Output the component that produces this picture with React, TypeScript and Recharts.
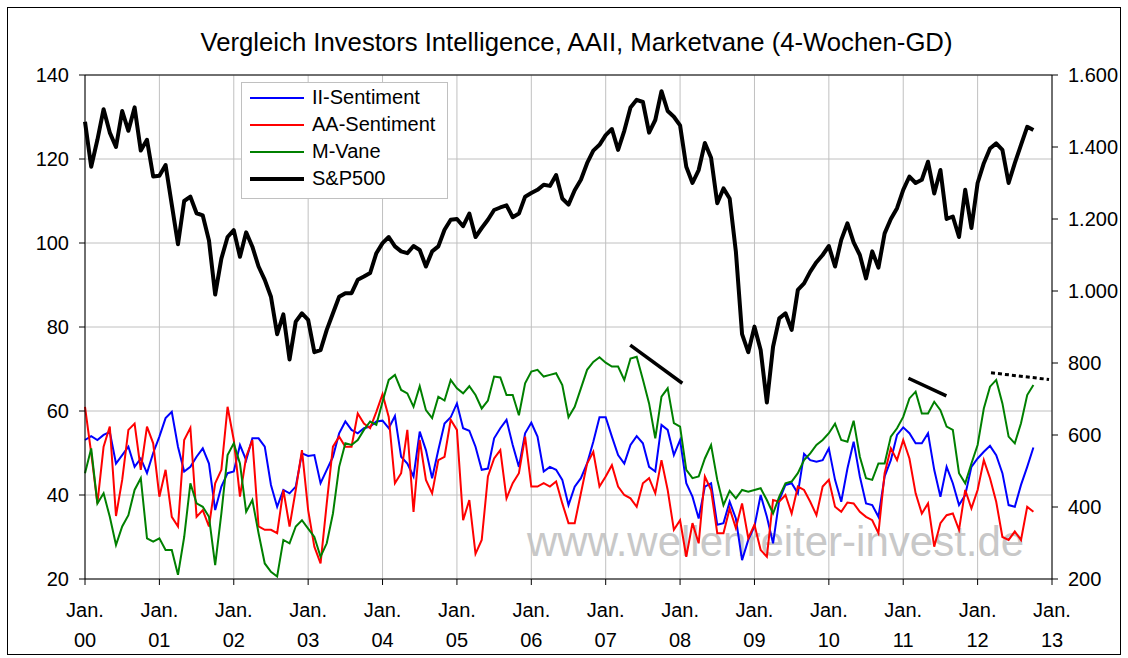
import { LineChart, Line, XAxis, YAxis, CartesianGrid, ReferenceLine } from 'recharts';

// Monthly readings, Jan 2000 .. Oct 2012 (one value per month start)
const START_YEAR = 2000;

const iiSentiment = [
  53.1, 54.0, 53.1, 54.3, 55.0, 47.5, 49.5, 51.5, 46.7, 48.7, 45.2, 50.0,
  53.9, 58.3, 59.8, 51.5, 45.6, 46.7, 49.1, 51.1, 47.5, 36.4, 42.0, 45.2,
  45.6, 51.9, 48.3, 53.5, 53.5, 51.5, 42.4, 37.2, 41.2, 40.4, 42.0, 49.9,
  49.3, 49.5, 42.8, 46.0, 49.1, 54.7, 57.5, 55.5, 54.7, 55.9, 56.3, 57.5,
  57.7, 55.9, 58.8, 49.1, 47.5, 44.4, 55.1, 50.7, 44.0, 50.7, 57.0, 58.5,
  61.8, 55.9, 55.3, 51.5, 46.0, 46.3, 53.5, 55.9, 57.9, 51.9, 46.7, 54.7,
  57.2, 53.9, 45.6, 46.7, 46.0, 43.6, 37.6, 42.0, 44.0, 47.5, 52.7, 58.5,
  58.5, 53.9, 49.5, 47.5, 51.9, 54.0, 52.3, 46.7, 45.6, 56.7, 55.5, 49.5,
  53.1, 42.8, 39.6, 34.4, 42.0, 42.8, 32.9, 33.3, 38.4, 34.4, 24.5, 29.3,
  32.5, 40.0, 34.8, 28.5, 38.8, 42.4, 42.8, 40.4, 49.8, 48.3, 47.9, 48.3,
  51.1, 43.6, 38.4, 46.3, 52.7, 44.4, 38.0, 37.6, 34.8, 44.4, 48.3, 54.3,
  56.1, 54.7, 52.3, 52.3, 54.7, 46.0, 39.6, 46.7, 42.8, 37.6, 40.0, 46.7,
  48.7, 50.3, 51.7, 49.5, 45.2, 37.6, 37.2, 42.4, 46.7, 51.3,
];

const aaSentiment = [
  61.0, 50.0, 38.0, 51.5, 56.3, 35.0, 43.6, 55.5, 57.0, 46.0, 56.3, 52.3,
  39.6, 46.0, 34.8, 32.5, 53.1, 56.0, 34.8, 36.4, 32.5, 42.8, 46.0, 61.0,
  53.1, 39.6, 49.1, 53.1, 32.5, 31.7, 31.7, 30.9, 41.2, 32.5, 41.2, 50.7,
  36.4, 27.7, 23.7, 38.0, 51.5, 53.9, 51.5, 51.5, 59.4, 57.0, 55.9, 59.8,
  64.0, 58.6, 42.8, 45.2, 55.5, 36.0, 53.1, 43.6, 40.4, 48.3, 49.1, 57.9,
  55.5, 34.0, 38.8, 26.0, 29.3, 44.4, 48.7, 50.7, 39.2, 42.8, 45.2, 53.9,
  42.0, 42.0, 42.8, 42.0, 43.2, 38.0, 33.3, 33.3, 40.4, 47.5, 50.3, 42.0,
  44.4, 47.1, 42.0, 40.0, 39.2, 37.2, 42.8, 44.0, 40.4, 48.3, 41.2, 31.7,
  34.0, 25.3, 33.3, 28.5, 44.4, 41.2, 30.9, 30.9, 36.8, 32.1, 38.0, 29.7,
  32.9, 26.9, 25.3, 38.8, 38.4, 40.0, 35.6, 42.0, 41.2, 38.4, 35.2, 42.0,
  43.6, 37.2, 36.0, 38.2, 38.0, 36.0, 34.8, 34.0, 30.9, 45.2, 51.1, 48.3,
  53.1, 48.7, 40.4, 35.6, 38.0, 27.7, 33.3, 35.2, 35.6, 31.7, 41.2, 36.8,
  41.2, 48.3, 44.0, 38.4, 30.0, 29.3, 31.3, 29.3, 37.2, 36.0,
];

const marketVane = [
  45.2, 51.1, 38.0, 40.4, 34.8, 28.1, 32.5, 35.2, 41.2, 44.0, 29.7, 28.9,
  29.7, 26.9, 26.9, 21.0, 30.0, 42.8, 38.0, 37.2, 34.8, 23.3, 35.6, 49.5,
  52.3, 47.5, 36.0, 38.8, 30.9, 23.7, 21.7, 20.6, 29.3, 28.5, 32.5, 34.0,
  32.0, 30.0, 25.3, 28.5, 35.6, 46.7, 52.3, 51.9, 53.1, 55.5, 57.5, 56.7,
  62.2, 67.4, 68.6, 65.0, 64.2, 61.0, 65.9, 60.2, 58.3, 63.4, 62.5, 67.4,
  65.4, 64.2, 65.9, 63.8, 60.6, 62.5, 68.2, 68.0, 63.8, 63.8, 59.0, 66.6,
  69.4, 69.8, 68.2, 68.6, 69.0, 66.2, 58.5, 61.0, 65.4, 69.8, 71.7, 72.8,
  71.5, 70.6, 70.6, 67.4, 72.5, 72.9, 67.5, 61.8, 53.5, 63.4, 65.4, 57.1,
  56.3, 46.0, 44.0, 44.4, 48.7, 51.9, 43.6, 37.6, 41.0, 39.2, 41.2, 40.8,
  41.2, 41.6, 38.8, 35.6, 39.6, 42.8, 43.2, 45.2, 48.3, 49.9, 51.9, 53.1,
  54.7, 57.0, 53.1, 52.7, 57.7, 49.1, 44.0, 43.6, 47.5, 47.5, 53.9, 55.9,
  58.6, 63.0, 64.6, 59.4, 59.4, 62.2, 60.2, 56.3, 55.5, 45.2, 42.8, 47.5,
  51.9, 60.6, 65.8, 67.4, 61.8, 53.9, 52.3, 57.1, 63.8, 66.2,
];

const sp500 = [
  1470, 1345, 1420, 1505, 1440, 1400, 1500, 1445, 1510, 1390, 1420, 1318,
  1320, 1350, 1240, 1130, 1250, 1262, 1216, 1210, 1140, 990, 1090, 1150,
  1169, 1095, 1163, 1123, 1068, 1031, 984, 880, 935, 810, 915, 938,
  920, 830, 836, 892, 938, 984, 994, 994, 1031, 1040, 1050, 1105,
  1133, 1150, 1124, 1110, 1105, 1125, 1114, 1068, 1110, 1124, 1170, 1198,
  1200, 1180, 1215, 1150, 1175, 1198, 1225, 1232, 1238, 1205, 1215, 1262,
  1272, 1281, 1295, 1292, 1322, 1257, 1240, 1280, 1309, 1355, 1390, 1406,
  1433, 1450, 1392, 1445, 1510, 1531, 1525, 1440, 1475, 1555, 1500, 1484,
  1460, 1345, 1300, 1336, 1411, 1370, 1244, 1285, 1257, 1110, 880, 830,
  901, 836, 690, 845, 924, 938, 892, 1003, 1021, 1054, 1080, 1100,
  1125, 1068, 1142, 1188, 1135, 1100, 1035, 1110, 1065, 1160, 1200, 1230,
  1281, 1318, 1300, 1309, 1359, 1271, 1336, 1200, 1207, 1150, 1281, 1175,
  1300, 1355, 1396, 1410, 1392, 1300, 1355, 1406, 1456, 1447,
];

const yearTicks = [2000, 2001, 2002, 2003, 2004, 2005, 2006, 2007, 2008, 2009, 2010, 2011, 2012, 2013];
const leftTicks = [20, 40, 60, 80, 100, 120, 140];
const rightTicks = [200, 400, 600, 800, 1000, 1200, 1400, 1600];

// hand-drawn trend marks: [year, left-axis value] pairs
const trendSegments = [
  { from: [2007.33, 75.7], to: [2008.03, 66.6], dotted: false },
  { from: [2011.07, 67.8], to: [2011.58, 63.6], dotted: false },
  { from: [2012.18, 69.1], to: [2012.96, 67.5], dotted: true },
];

const legendItems = [
  { label: 'II-Sentiment', color: '#0000ff', width: 2 },
  { label: 'AA-Sentiment', color: '#ff0000', width: 2 },
  { label: 'M-Vane', color: '#008000', width: 2 },
  { label: 'S&P500', color: '#000000', width: 4 },
];

const data = sp500.map((sp, i) => ({
  t: START_YEAR + i / 12,
  ii: iiSentiment[i],
  aa: aaSentiment[i],
  mv: marketVane[i],
  sp,
}));

const FONT = 'Arial, "Liberation Sans", sans-serif';

function formatThousands(v: number) {
  if (v < 1000) return String(v);
  return `${Math.floor(v / 1000)}.${String(v % 1000).padStart(3, '0')}`;
}

function YearTick({ x, y, payload }: any) {
  const yy = String(payload.value % 100).padStart(2, '0');
  return (
    <g fontFamily={FONT} fontSize={20} fill="#000">
      <text x={x} y={y + 30} textAnchor="middle">Jan.</text>
      <text x={x} y={y + 60} textAnchor="middle">{yy}</text>
    </g>
  );
}

export default function App() {
  return (
    <div style={{ position: 'absolute', left: 0, top: 0, width: 1128, height: 658, background: '#fff', fontFamily: FONT }}>
      <div
        style={{
          position: 'absolute', left: 7, top: 7, width: 1114, height: 648,
          border: '1px solid #000', boxSizing: 'border-box',
        }}
      />
      <div
        style={{
          position: 'absolute', left: 527, top: 521, fontSize: 42, lineHeight: '42px',
          color: '#c8c8c8', whiteSpace: 'nowrap',
        }}
      >
        www.wellenreiter-invest.de
      </div>
      <div
        style={{
          position: 'absolute', left: 576.5, top: 28, transform: 'translateX(-50%)',
          fontSize: 25.7, lineHeight: '28px', whiteSpace: 'nowrap', color: '#000',
        }}
      >
        Vergleich Investors Intelligence, AAII, Marketvane (4-Wochen-GD)
      </div>
      <div style={{ position: 'absolute', left: 0, top: 0 }}>
        <LineChart width={1128} height={658} data={data} margin={{ top: 75, right: 6, bottom: 9, left: 25 }}>
          <CartesianGrid yAxisId="left" stroke="#c0c0c0" strokeWidth={1} />
          <XAxis
            dataKey="t"
            type="number"
            domain={[2000, 2013]}
            ticks={yearTicks}
            tick={<YearTick />}
            tickSize={6}
            height={70}
            stroke="#000"
            tickLine={{ stroke: '#000' }}
            interval={0}
          />
          <YAxis
            yAxisId="left"
            domain={[20, 140]}
            ticks={leftTicks}
            width={60}
            tickSize={6}
            tickMargin={10}
            stroke="#000"
            tick={{ fill: '#000', fontSize: 20, fontFamily: FONT }}
            interval={0}
          />
          <YAxis
            yAxisId="right"
            orientation="right"
            domain={[200, 1600]}
            ticks={rightTicks}
            width={70}
            tickSize={6}
            tickMargin={10}
            stroke="#000"
            tickFormatter={formatThousands}
            tick={{ fill: '#000', fontSize: 20, fontFamily: FONT }}
            interval={0}
          />
          <ReferenceLine yAxisId="left" y={140} stroke="#000" strokeWidth={1} />
          <Line yAxisId="left" type="linear" dataKey="ii" stroke="#0000ff" strokeWidth={2} dot={false} isAnimationActive={false} />
          <Line yAxisId="left" type="linear" dataKey="aa" stroke="#ff0000" strokeWidth={2} dot={false} isAnimationActive={false} />
          <Line yAxisId="left" type="linear" dataKey="mv" stroke="#008000" strokeWidth={2} dot={false} isAnimationActive={false} />
          <Line yAxisId="right" type="linear" dataKey="sp" stroke="#000" strokeWidth={4} strokeLinejoin="round" dot={false} isAnimationActive={false} />
          {trendSegments.map((s, i) => (
            <ReferenceLine
              key={i}
              yAxisId="left"
              segment={[{ x: s.from[0], y: s.from[1] }, { x: s.to[0], y: s.to[1] }]}
              stroke="#000"
              strokeWidth={s.dotted ? 3 : 3.5}
              strokeDasharray={s.dotted ? '4 3' : undefined}
            />
          ))}
        </LineChart>
      </div>
      <div
        style={{
          position: 'absolute', left: 241, top: 82, width: 207, height: 117,
          border: '1px solid #c0c0c0', background: '#fff', boxSizing: 'border-box', paddingTop: 1,
        }}
      >
        {legendItems.map((it) => (
          <div key={it.label} style={{ position: 'relative', height: 27, fontSize: 20, lineHeight: '27px', color: '#000' }}>
            <div
              style={{
                position: 'absolute', left: 8, top: 13.5 - it.width / 2, width: 54, height: it.width,
                background: it.color,
              }}
            />
            <span style={{ position: 'absolute', left: 70, top: 0, whiteSpace: 'nowrap' }}>{it.label}</span>
          </div>
        ))}
      </div>
    </div>
  );
}
